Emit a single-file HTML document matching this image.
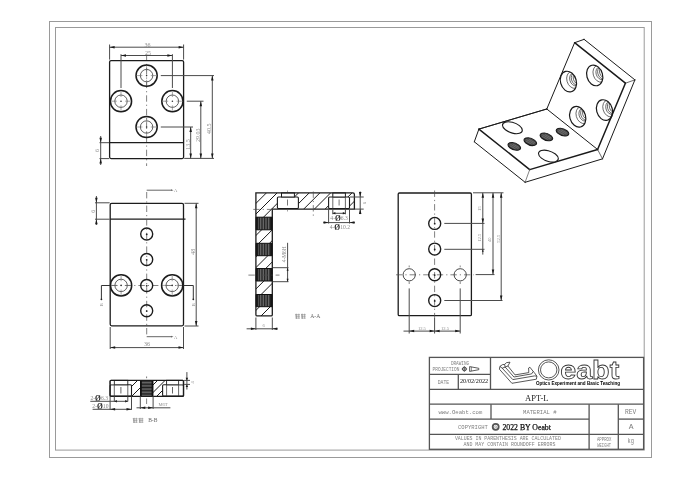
<!DOCTYPE html>
<html><head><meta charset="utf-8"><style>
html,body{margin:0;padding:0;background:#fff;width:700px;height:478px;overflow:hidden;}
svg{display:block;font-family:"Liberation Sans",sans-serif;filter:grayscale(1);}
</style></head><body>
<svg width="700" height="478" viewBox="0 0 700 478">
<rect width="700" height="478" fill="#fff"/>
<rect x="49.50" y="21.50" width="602.00" height="436.00" rx="0" fill="none" stroke="#9a9a9a" stroke-width="1"/>
<rect x="55.50" y="27.50" width="588.70" height="422.60" rx="0" fill="none" stroke="#9a9a9a" stroke-width="1"/>
<line x1="146.60" y1="54.50" x2="146.60" y2="166.00" stroke="#4a4a4a" stroke-width="0.7" stroke-dasharray="6.4 3.0 1.2 3.0" stroke-linecap="butt"/>
<rect x="109.60" y="60.60" width="74.00" height="98.00" rx="1.5" fill="none" stroke="#1c1c1c" stroke-width="1.3"/>
<line x1="109.60" y1="142.70" x2="183.60" y2="142.70" stroke="#1c1c1c" stroke-width="1.3" stroke-linecap="butt"/>
<circle cx="146.60" cy="75.60" r="10.60" fill="none" stroke="#1c1c1c" stroke-width="1.5"/>
<circle cx="146.60" cy="75.60" r="6.20" fill="none" stroke="#3a3a3a" stroke-width="0.8"/>
<line x1="150.80" y1="75.60" x2="156.10" y2="75.60" stroke="#666" stroke-width="0.6" stroke-linecap="butt"/>
<line x1="146.60" y1="79.80" x2="146.60" y2="85.10" stroke="#666" stroke-width="0.6" stroke-linecap="butt"/>
<line x1="142.40" y1="75.60" x2="137.10" y2="75.60" stroke="#666" stroke-width="0.6" stroke-linecap="butt"/>
<line x1="146.60" y1="71.40" x2="146.60" y2="66.10" stroke="#666" stroke-width="0.6" stroke-linecap="butt"/>
<circle cx="146.60" cy="75.60" r="0.80" fill="#333" stroke="none" stroke-width="0"/>
<circle cx="121.00" cy="101.20" r="10.60" fill="none" stroke="#1c1c1c" stroke-width="1.5"/>
<circle cx="121.00" cy="101.20" r="6.20" fill="none" stroke="#3a3a3a" stroke-width="0.8"/>
<line x1="125.20" y1="101.20" x2="130.50" y2="101.20" stroke="#666" stroke-width="0.6" stroke-linecap="butt"/>
<line x1="121.00" y1="105.40" x2="121.00" y2="110.70" stroke="#666" stroke-width="0.6" stroke-linecap="butt"/>
<line x1="116.80" y1="101.20" x2="111.50" y2="101.20" stroke="#666" stroke-width="0.6" stroke-linecap="butt"/>
<line x1="121.00" y1="97.00" x2="121.00" y2="91.70" stroke="#666" stroke-width="0.6" stroke-linecap="butt"/>
<circle cx="121.00" cy="101.20" r="0.80" fill="#333" stroke="none" stroke-width="0"/>
<circle cx="172.40" cy="101.20" r="10.60" fill="none" stroke="#1c1c1c" stroke-width="1.5"/>
<circle cx="172.40" cy="101.20" r="6.20" fill="none" stroke="#3a3a3a" stroke-width="0.8"/>
<line x1="176.60" y1="101.20" x2="181.90" y2="101.20" stroke="#666" stroke-width="0.6" stroke-linecap="butt"/>
<line x1="172.40" y1="105.40" x2="172.40" y2="110.70" stroke="#666" stroke-width="0.6" stroke-linecap="butt"/>
<line x1="168.20" y1="101.20" x2="162.90" y2="101.20" stroke="#666" stroke-width="0.6" stroke-linecap="butt"/>
<line x1="172.40" y1="97.00" x2="172.40" y2="91.70" stroke="#666" stroke-width="0.6" stroke-linecap="butt"/>
<circle cx="172.40" cy="101.20" r="0.80" fill="#333" stroke="none" stroke-width="0"/>
<circle cx="146.60" cy="127.00" r="10.60" fill="none" stroke="#1c1c1c" stroke-width="1.5"/>
<circle cx="146.60" cy="127.00" r="6.20" fill="none" stroke="#3a3a3a" stroke-width="0.8"/>
<line x1="150.80" y1="127.00" x2="156.10" y2="127.00" stroke="#666" stroke-width="0.6" stroke-linecap="butt"/>
<line x1="146.60" y1="131.20" x2="146.60" y2="136.50" stroke="#666" stroke-width="0.6" stroke-linecap="butt"/>
<line x1="142.40" y1="127.00" x2="137.10" y2="127.00" stroke="#666" stroke-width="0.6" stroke-linecap="butt"/>
<line x1="146.60" y1="122.80" x2="146.60" y2="117.50" stroke="#666" stroke-width="0.6" stroke-linecap="butt"/>
<circle cx="146.60" cy="127.00" r="0.80" fill="#333" stroke="none" stroke-width="0"/>
<line x1="109.60" y1="44.50" x2="109.60" y2="59.60" stroke="#4a4a4a" stroke-width="1.0" stroke-linecap="butt"/>
<line x1="183.60" y1="44.50" x2="183.60" y2="59.60" stroke="#4a4a4a" stroke-width="1.0" stroke-linecap="butt"/>
<line x1="109.60" y1="47.20" x2="183.60" y2="47.20" stroke="#4a4a4a" stroke-width="1.0" stroke-linecap="butt"/>
<polygon points="109.60,47.20 114.60,45.95 114.60,48.45" fill="#1a1a1a"/>
<polygon points="183.60,47.20 178.60,48.45 178.60,45.95" fill="#1a1a1a"/>
<text x="147.60" y="44.50" font-family="Liberation Serif" font-size="6.0" fill="#8c8c8c" text-anchor="middle" dominant-baseline="central" font-weight="normal">36</text>
<line x1="121.00" y1="54.20" x2="121.00" y2="88.00" stroke="#4a4a4a" stroke-width="1.0" stroke-linecap="butt"/>
<line x1="172.40" y1="54.20" x2="172.40" y2="88.00" stroke="#4a4a4a" stroke-width="1.0" stroke-linecap="butt"/>
<line x1="121.00" y1="55.50" x2="172.40" y2="55.50" stroke="#4a4a4a" stroke-width="1.0" stroke-linecap="butt"/>
<polygon points="121.00,55.50 126.00,54.25 126.00,56.75" fill="#1a1a1a"/>
<polygon points="172.40,55.50 167.40,56.75 167.40,54.25" fill="#1a1a1a"/>
<text x="148.10" y="52.70" font-family="Liberation Serif" font-size="6.0" fill="#8c8c8c" text-anchor="middle" dominant-baseline="central" font-weight="normal">25</text>
<line x1="160.80" y1="75.60" x2="214.00" y2="75.60" stroke="#4a4a4a" stroke-width="1.0" stroke-linecap="butt"/>
<line x1="186.80" y1="101.20" x2="203.50" y2="101.20" stroke="#4a4a4a" stroke-width="1.0" stroke-linecap="butt"/>
<line x1="160.80" y1="127.00" x2="193.00" y2="127.00" stroke="#4a4a4a" stroke-width="1.0" stroke-linecap="butt"/>
<line x1="184.20" y1="158.40" x2="214.00" y2="158.40" stroke="#4a4a4a" stroke-width="1.0" stroke-linecap="butt"/>
<line x1="190.70" y1="127.00" x2="190.70" y2="158.40" stroke="#4a4a4a" stroke-width="1.0" stroke-linecap="butt"/>
<polygon points="190.70,127.00 191.95,132.00 189.45,132.00" fill="#1a1a1a"/>
<polygon points="190.70,158.40 189.45,153.40 191.95,153.40" fill="#1a1a1a"/>
<line x1="200.80" y1="101.20" x2="200.80" y2="158.40" stroke="#4a4a4a" stroke-width="1.0" stroke-linecap="butt"/>
<polygon points="200.80,101.20 202.05,106.20 199.55,106.20" fill="#1a1a1a"/>
<polygon points="200.80,158.40 199.55,153.40 202.05,153.40" fill="#1a1a1a"/>
<line x1="212.30" y1="75.60" x2="212.30" y2="158.40" stroke="#4a4a4a" stroke-width="1.0" stroke-linecap="butt"/>
<polygon points="212.30,75.60 213.55,80.60 211.05,80.60" fill="#1a1a1a"/>
<polygon points="212.30,158.40 211.05,153.40 213.55,153.40" fill="#1a1a1a"/>
<text x="187.80" y="144.50" font-family="Liberation Serif" font-size="6.0" fill="#8c8c8c" text-anchor="middle" dominant-baseline="central" font-weight="normal" transform="rotate(-90 187.80 144.50)">13.5</text>
<text x="197.60" y="135.20" font-family="Liberation Serif" font-size="6.0" fill="#8c8c8c" text-anchor="middle" dominant-baseline="central" font-weight="normal" transform="rotate(-90 197.60 135.20)">29.03</text>
<text x="209.00" y="128.70" font-family="Liberation Serif" font-size="6.0" fill="#8c8c8c" text-anchor="middle" dominant-baseline="central" font-weight="normal" transform="rotate(-90 209.00 128.70)">40.5</text>
<line x1="99.50" y1="142.70" x2="109.10" y2="142.70" stroke="#4a4a4a" stroke-width="1.0" stroke-linecap="butt"/>
<line x1="99.50" y1="158.60" x2="109.10" y2="158.60" stroke="#4a4a4a" stroke-width="1.0" stroke-linecap="butt"/>
<line x1="100.70" y1="136.00" x2="100.70" y2="165.00" stroke="#4a4a4a" stroke-width="1.0" stroke-linecap="butt"/>
<polygon points="100.70,142.70 99.45,137.70 101.95,137.70" fill="#1a1a1a"/>
<polygon points="100.70,158.60 101.95,163.60 99.45,163.60" fill="#1a1a1a"/>
<text x="97.30" y="150.60" font-family="Liberation Serif" font-size="6.0" fill="#8c8c8c" text-anchor="middle" dominant-baseline="central" font-weight="normal" transform="rotate(-90 97.30 150.60)">6</text>
<rect x="110.20" y="203.30" width="73.30" height="122.50" rx="1.5" fill="none" stroke="#1c1c1c" stroke-width="1.3"/>
<line x1="110.20" y1="219.20" x2="185.50" y2="219.20" stroke="#1c1c1c" stroke-width="1.3" stroke-linecap="butt"/>
<line x1="146.70" y1="192.00" x2="146.70" y2="336.50" stroke="#4a4a4a" stroke-width="0.7" stroke-dasharray="6.4 3.0 1.2 3.0" stroke-linecap="butt"/>
<line x1="111.20" y1="285.50" x2="182.50" y2="285.50" stroke="#4a4a4a" stroke-width="0.7" stroke-dasharray="6.4 3.0 1.2 3.0" stroke-linecap="butt"/>
<circle cx="146.70" cy="234.00" r="6.00" fill="none" stroke="#1c1c1c" stroke-width="1.4"/>
<circle cx="146.70" cy="234.30" r="0.90" fill="#222" stroke="none" stroke-width="0"/>
<circle cx="146.70" cy="259.50" r="6.00" fill="none" stroke="#1c1c1c" stroke-width="1.4"/>
<circle cx="146.70" cy="259.80" r="0.90" fill="#222" stroke="none" stroke-width="0"/>
<circle cx="146.70" cy="285.50" r="6.00" fill="none" stroke="#1c1c1c" stroke-width="1.4"/>
<circle cx="146.70" cy="285.80" r="0.90" fill="#222" stroke="none" stroke-width="0"/>
<circle cx="146.70" cy="310.80" r="6.00" fill="none" stroke="#1c1c1c" stroke-width="1.4"/>
<circle cx="146.70" cy="311.10" r="0.90" fill="#222" stroke="none" stroke-width="0"/>
<circle cx="121.10" cy="285.40" r="10.60" fill="none" stroke="#1c1c1c" stroke-width="1.5"/>
<circle cx="121.10" cy="285.40" r="6.20" fill="none" stroke="#3a3a3a" stroke-width="0.8"/>
<line x1="125.30" y1="285.40" x2="130.60" y2="285.40" stroke="#666" stroke-width="0.6" stroke-linecap="butt"/>
<line x1="121.10" y1="289.60" x2="121.10" y2="294.90" stroke="#666" stroke-width="0.6" stroke-linecap="butt"/>
<line x1="116.90" y1="285.40" x2="111.60" y2="285.40" stroke="#666" stroke-width="0.6" stroke-linecap="butt"/>
<line x1="121.10" y1="281.20" x2="121.10" y2="275.90" stroke="#666" stroke-width="0.6" stroke-linecap="butt"/>
<circle cx="121.10" cy="285.40" r="0.80" fill="#333" stroke="none" stroke-width="0"/>
<circle cx="172.20" cy="285.40" r="10.60" fill="none" stroke="#1c1c1c" stroke-width="1.5"/>
<circle cx="172.20" cy="285.40" r="6.20" fill="none" stroke="#3a3a3a" stroke-width="0.8"/>
<line x1="176.40" y1="285.40" x2="181.70" y2="285.40" stroke="#666" stroke-width="0.6" stroke-linecap="butt"/>
<line x1="172.20" y1="289.60" x2="172.20" y2="294.90" stroke="#666" stroke-width="0.6" stroke-linecap="butt"/>
<line x1="168.00" y1="285.40" x2="162.70" y2="285.40" stroke="#666" stroke-width="0.6" stroke-linecap="butt"/>
<line x1="172.20" y1="281.20" x2="172.20" y2="275.90" stroke="#666" stroke-width="0.6" stroke-linecap="butt"/>
<circle cx="172.20" cy="285.40" r="0.80" fill="#333" stroke="none" stroke-width="0"/>
<line x1="146.70" y1="190.20" x2="171.50" y2="190.20" stroke="#666" stroke-width="1" stroke-linecap="butt"/>
<polygon points="173.50,190.20 171.00,191.10 171.00,189.30" fill="#666"/>
<text x="175.50" y="190.40" font-family="Liberation Serif" font-size="4.5" fill="#8c8c8c" text-anchor="middle" dominant-baseline="central" font-weight="normal">A</text>
<line x1="146.70" y1="336.70" x2="171.50" y2="336.70" stroke="#666" stroke-width="1" stroke-linecap="butt"/>
<polygon points="173.50,336.70 171.00,337.60 171.00,335.80" fill="#666"/>
<text x="175.50" y="337.90" font-family="Liberation Serif" font-size="4.5" fill="#8c8c8c" text-anchor="middle" dominant-baseline="central" font-weight="normal">A</text>
<polyline points="110.20,285.50 101.40,285.50 101.40,299.00" fill="none" stroke="#333" stroke-width="1.0" stroke-linejoin="miter"/>
<polyline points="183.50,285.50 193.30,285.50 193.30,299.00" fill="none" stroke="#333" stroke-width="1.0" stroke-linejoin="miter"/>
<circle cx="101.40" cy="299.30" r="0.90" fill="#222" stroke="none" stroke-width="0"/>
<circle cx="193.30" cy="299.30" r="0.90" fill="#222" stroke="none" stroke-width="0"/>
<text x="101.20" y="304.80" font-family="Liberation Serif" font-size="4.6" fill="#888" text-anchor="middle" dominant-baseline="central" font-weight="normal" transform="rotate(-90 101.20 304.80)">B</text>
<text x="193.10" y="304.80" font-family="Liberation Serif" font-size="4.6" fill="#888" text-anchor="middle" dominant-baseline="central" font-weight="normal" transform="rotate(-90 193.10 304.80)">B</text>
<line x1="95.00" y1="202.80" x2="109.70" y2="202.80" stroke="#4a4a4a" stroke-width="1.0" stroke-linecap="butt"/>
<line x1="95.00" y1="219.20" x2="109.70" y2="219.20" stroke="#4a4a4a" stroke-width="1.0" stroke-linecap="butt"/>
<line x1="96.40" y1="196.00" x2="96.40" y2="225.00" stroke="#4a4a4a" stroke-width="1.0" stroke-linecap="butt"/>
<polygon points="96.40,202.80 95.15,197.80 97.65,197.80" fill="#1a1a1a"/>
<polygon points="96.40,219.20 97.65,224.20 95.15,224.20" fill="#1a1a1a"/>
<text x="93.20" y="211.20" font-family="Liberation Serif" font-size="6.0" fill="#8c8c8c" text-anchor="middle" dominant-baseline="central" font-weight="normal" transform="rotate(-90 93.20 211.20)">6</text>
<line x1="184.50" y1="203.30" x2="198.50" y2="203.30" stroke="#4a4a4a" stroke-width="1.0" stroke-linecap="butt"/>
<line x1="184.50" y1="326.00" x2="198.50" y2="326.00" stroke="#4a4a4a" stroke-width="1.0" stroke-linecap="butt"/>
<line x1="196.20" y1="203.30" x2="196.20" y2="326.00" stroke="#4a4a4a" stroke-width="1.0" stroke-linecap="butt"/>
<polygon points="196.20,203.30 197.45,208.30 194.95,208.30" fill="#1a1a1a"/>
<polygon points="196.20,326.00 194.95,321.00 197.45,321.00" fill="#1a1a1a"/>
<text x="193.00" y="251.70" font-family="Liberation Serif" font-size="6.0" fill="#8c8c8c" text-anchor="middle" dominant-baseline="central" font-weight="normal" transform="rotate(-90 193.00 251.70)">48</text>
<line x1="110.20" y1="327.00" x2="110.20" y2="349.00" stroke="#4a4a4a" stroke-width="1.0" stroke-linecap="butt"/>
<line x1="183.50" y1="327.00" x2="183.50" y2="349.00" stroke="#4a4a4a" stroke-width="1.0" stroke-linecap="butt"/>
<line x1="110.20" y1="347.60" x2="183.50" y2="347.60" stroke="#4a4a4a" stroke-width="1.0" stroke-linecap="butt"/>
<polygon points="110.20,347.60 115.20,346.35 115.20,348.85" fill="#1a1a1a"/>
<polygon points="183.50,347.60 178.50,348.85 178.50,346.35" fill="#1a1a1a"/>
<text x="147.00" y="344.30" font-family="Liberation Serif" font-size="6.0" fill="#8c8c8c" text-anchor="middle" dominant-baseline="central" font-weight="normal">36</text>
<clipPath id="cpL"><path d="M255.9,192.9 L352.9,192.9 Q354.4,192.9 354.4,194.4 L354.4,209.1 L272.3,209.1 L272.3,314.7 Q272.3,315.9 271.1,315.9 L257.1,315.9 Q255.9,315.9 255.9,314.7 Z"/></clipPath>
<path d="M252.90,185 L117.90,320 M263.60,185 L128.60,320 M274.30,185 L139.30,320 M285.00,185 L150.00,320 M295.70,185 L160.70,320 M306.40,185 L171.40,320 M317.10,185 L182.10,320 M327.80,185 L192.80,320 M338.50,185 L203.50,320 M349.20,185 L214.20,320 M359.90,185 L224.90,320 M370.60,185 L235.60,320 M381.30,185 L246.30,320 M392.00,185 L257.00,320 M402.70,185 L267.70,320 M413.40,185 L278.40,320 M424.10,185 L289.10,320 M434.80,185 L299.80,320" stroke="#1a1a1a" stroke-width="1.0" fill="none" clip-path="url(#cpL)"/>
<rect x="277.40" y="197.00" width="21.00" height="11.50" rx="1" fill="#fff" stroke="#1c1c1c" stroke-width="1.1"/>
<rect x="281.50" y="192.90" width="12.90" height="4.10" rx="0" fill="#fff" stroke="#1c1c1c" stroke-width="1.0"/>
<rect x="328.60" y="197.00" width="20.90" height="11.50" rx="1" fill="#fff" stroke="#1c1c1c" stroke-width="1.1"/>
<rect x="332.80" y="192.90" width="12.60" height="4.10" rx="0" fill="#fff" stroke="#1c1c1c" stroke-width="1.0"/>
<line x1="332.80" y1="197.00" x2="332.80" y2="209.10" stroke="#444" stroke-width="0.8" stroke-linecap="butt"/>
<line x1="345.40" y1="197.00" x2="345.40" y2="209.10" stroke="#444" stroke-width="0.8" stroke-linecap="butt"/>
<line x1="287.50" y1="199.50" x2="287.50" y2="205.50" stroke="#555" stroke-width="0.8" stroke-linecap="butt"/>
<line x1="339.10" y1="199.50" x2="339.10" y2="205.50" stroke="#555" stroke-width="0.8" stroke-linecap="butt"/>
<line x1="287.50" y1="190.50" x2="287.50" y2="192.00" stroke="#666" stroke-width="0.6" stroke-linecap="butt"/>
<line x1="287.50" y1="210.00" x2="287.50" y2="211.50" stroke="#666" stroke-width="0.6" stroke-linecap="butt"/>
<pattern id="thr" width="1.6" height="4" patternUnits="userSpaceOnUse"><rect width="1.6" height="4" fill="#1e1e1e"/><rect x="1.0" width="0.6" height="4" fill="#8a8a8a"/></pattern>
<rect x="255.9" y="217.2" width="16.400000000000006" height="12.600000000000023" fill="url(#thr)"/>
<line x1="255.90" y1="217.20" x2="272.30" y2="217.20" stroke="#111" stroke-width="1.0" stroke-linecap="butt"/>
<line x1="255.90" y1="229.80" x2="272.30" y2="229.80" stroke="#111" stroke-width="1.0" stroke-linecap="butt"/>
<rect x="255.6" y="217.2" width="2.2" height="12.600000000000023" fill="#111"/>
<rect x="270.40000000000003" y="217.2" width="2.2" height="12.600000000000023" fill="#111"/>
<rect x="255.9" y="243.3" width="16.400000000000006" height="12.399999999999977" fill="url(#thr)"/>
<line x1="255.90" y1="243.30" x2="272.30" y2="243.30" stroke="#111" stroke-width="1.0" stroke-linecap="butt"/>
<line x1="255.90" y1="255.70" x2="272.30" y2="255.70" stroke="#111" stroke-width="1.0" stroke-linecap="butt"/>
<rect x="255.6" y="243.3" width="2.2" height="12.399999999999977" fill="#111"/>
<rect x="270.40000000000003" y="243.3" width="2.2" height="12.399999999999977" fill="#111"/>
<rect x="255.9" y="268.5" width="16.400000000000006" height="12.5" fill="url(#thr)"/>
<line x1="255.90" y1="268.50" x2="272.30" y2="268.50" stroke="#111" stroke-width="1.0" stroke-linecap="butt"/>
<line x1="255.90" y1="281.00" x2="272.30" y2="281.00" stroke="#111" stroke-width="1.0" stroke-linecap="butt"/>
<rect x="255.6" y="268.5" width="2.2" height="12.5" fill="#111"/>
<rect x="270.40000000000003" y="268.5" width="2.2" height="12.5" fill="#111"/>
<rect x="255.9" y="294.5" width="16.400000000000006" height="12.199999999999989" fill="url(#thr)"/>
<line x1="255.90" y1="294.50" x2="272.30" y2="294.50" stroke="#111" stroke-width="1.0" stroke-linecap="butt"/>
<line x1="255.90" y1="306.70" x2="272.30" y2="306.70" stroke="#111" stroke-width="1.0" stroke-linecap="butt"/>
<rect x="255.6" y="294.5" width="2.2" height="12.199999999999989" fill="#111"/>
<rect x="270.40000000000003" y="294.5" width="2.2" height="12.199999999999989" fill="#111"/>
<path d="M255.9,192.9 L352.9,192.9 Q354.4,192.9 354.4,194.4 L354.4,209.1 L272.3,209.1 L272.3,314.7 Q272.3,315.9 271.1,315.9 L257.1,315.9 Q255.9,315.9 255.9,314.7 Z" fill="none" stroke="#1c1c1c" stroke-width="1.3"/>
<line x1="253.30" y1="209.40" x2="274.00" y2="209.40" stroke="#4a4a4a" stroke-width="0.7" stroke-dasharray="6.4 3.0 1.2 3.0" stroke-linecap="butt"/>
<line x1="248.40" y1="275.10" x2="279.50" y2="275.10" stroke="#4a4a4a" stroke-width="0.7" stroke-dasharray="6.4 3.0 1.2 3.0" stroke-linecap="butt"/>
<line x1="313.30" y1="191.50" x2="313.30" y2="216.50" stroke="#4a4a4a" stroke-width="0.7" stroke-dasharray="6.4 3.0 1.2 3.0" stroke-linecap="butt"/>
<line x1="272.80" y1="267.70" x2="288.50" y2="267.70" stroke="#4a4a4a" stroke-width="1.0" stroke-linecap="butt"/>
<line x1="272.80" y1="281.70" x2="288.50" y2="281.70" stroke="#4a4a4a" stroke-width="1.0" stroke-linecap="butt"/>
<line x1="287.60" y1="242.80" x2="287.60" y2="281.70" stroke="#4a4a4a" stroke-width="1.0" stroke-linecap="butt"/>
<polygon points="287.60,267.70 288.60,270.70 286.60,270.70" fill="#1a1a1a"/>
<polygon points="287.60,281.70 286.60,278.70 288.60,278.70" fill="#1a1a1a"/>
<text x="284.30" y="254.30" font-family="Liberation Serif" font-size="5.4" fill="#888" text-anchor="middle" dominant-baseline="central" font-weight="normal" transform="rotate(-90 284.30 254.30)">4-M6H</text>
<line x1="255.90" y1="317.50" x2="255.90" y2="330.00" stroke="#4a4a4a" stroke-width="1.0" stroke-linecap="butt"/>
<line x1="272.30" y1="317.50" x2="272.30" y2="330.00" stroke="#4a4a4a" stroke-width="1.0" stroke-linecap="butt"/>
<line x1="246.60" y1="328.80" x2="277.70" y2="328.80" stroke="#4a4a4a" stroke-width="1.0" stroke-linecap="butt"/>
<polygon points="255.90,328.80 250.90,330.05 250.90,327.55" fill="#1a1a1a"/>
<polygon points="272.30,328.80 277.30,327.55 277.30,330.05" fill="#1a1a1a"/>
<text x="263.60" y="325.40" font-family="Liberation Serif" font-size="4.6" fill="#8c8c8c" text-anchor="middle" dominant-baseline="central" font-weight="normal">6</text>
<line x1="332.80" y1="209.10" x2="332.80" y2="214.30" stroke="#4a4a4a" stroke-width="1.0" stroke-linecap="butt"/>
<line x1="345.40" y1="209.10" x2="345.40" y2="214.30" stroke="#4a4a4a" stroke-width="1.0" stroke-linecap="butt"/>
<line x1="332.80" y1="213.30" x2="345.40" y2="213.30" stroke="#4a4a4a" stroke-width="1.0" stroke-linecap="butt"/>
<polygon points="332.80,213.30 335.40,212.05 335.40,214.55" fill="#1a1a1a"/>
<polygon points="345.40,213.30 342.80,214.55 342.80,212.05" fill="#1a1a1a"/>
<text x="339.10" y="217.90" font-family="Liberation Serif" font-size="5.6" fill="#888" text-anchor="middle" dominant-baseline="central" font-weight="normal">4-<tspan font-size="7.5" fill="#222" font-weight="bold">Ø</tspan>6.3</text>
<line x1="328.60" y1="209.10" x2="328.60" y2="223.50" stroke="#4a4a4a" stroke-width="1.0" stroke-linecap="butt"/>
<line x1="349.50" y1="209.10" x2="349.50" y2="223.50" stroke="#4a4a4a" stroke-width="1.0" stroke-linecap="butt"/>
<line x1="323.20" y1="222.60" x2="355.00" y2="222.60" stroke="#4a4a4a" stroke-width="1.0" stroke-linecap="butt"/>
<polygon points="328.60,222.60 323.60,223.85 323.60,221.35" fill="#1a1a1a"/>
<polygon points="349.50,222.60 354.50,221.35 354.50,223.85" fill="#1a1a1a"/>
<text x="339.80" y="227.00" font-family="Liberation Serif" font-size="5.6" fill="#888" text-anchor="middle" dominant-baseline="central" font-weight="normal">4-<tspan font-size="7.5" fill="#222" font-weight="bold">Ø</tspan>10.2</text>
<line x1="350.00" y1="197.00" x2="363.70" y2="197.00" stroke="#4a4a4a" stroke-width="1.0" stroke-linecap="butt"/>
<line x1="354.90" y1="209.10" x2="363.70" y2="209.10" stroke="#4a4a4a" stroke-width="1.0" stroke-linecap="butt"/>
<line x1="360.20" y1="191.50" x2="360.20" y2="214.10" stroke="#4a4a4a" stroke-width="1.0" stroke-linecap="butt"/>
<polygon points="360.20,197.00 358.95,192.00 361.45,192.00" fill="#1a1a1a"/>
<polygon points="360.20,209.10 361.45,214.10 358.95,214.10" fill="#1a1a1a"/>
<text x="364.70" y="203.00" font-family="Liberation Serif" font-size="4.6" fill="#8c8c8c" text-anchor="middle" dominant-baseline="central" font-weight="normal" transform="rotate(-90 364.70 203.00)">6</text>
<rect x="398.20" y="193.00" width="73.20" height="122.60" rx="1.2" fill="none" stroke="#1c1c1c" stroke-width="1.3"/>
<line x1="434.60" y1="190.50" x2="434.60" y2="318.00" stroke="#4a4a4a" stroke-width="0.7" stroke-dasharray="6.4 3.0 1.2 3.0" stroke-linecap="butt"/>
<line x1="434.60" y1="318.00" x2="434.60" y2="333.50" stroke="#4a4a4a" stroke-width="1.0" stroke-linecap="butt"/>
<line x1="396.00" y1="274.80" x2="474.00" y2="274.80" stroke="#4a4a4a" stroke-width="0.7" stroke-dasharray="6.4 3.0 1.2 3.0" stroke-linecap="butt"/>
<circle cx="434.70" cy="223.40" r="6.00" fill="none" stroke="#1c1c1c" stroke-width="1.4"/>
<circle cx="434.70" cy="223.70" r="0.90" fill="#222" stroke="none" stroke-width="0"/>
<circle cx="434.70" cy="249.10" r="6.00" fill="none" stroke="#1c1c1c" stroke-width="1.4"/>
<circle cx="434.70" cy="249.40" r="0.90" fill="#222" stroke="none" stroke-width="0"/>
<circle cx="434.70" cy="274.80" r="6.00" fill="none" stroke="#1c1c1c" stroke-width="1.4"/>
<circle cx="434.70" cy="275.10" r="0.90" fill="#222" stroke="none" stroke-width="0"/>
<circle cx="434.70" cy="300.60" r="6.00" fill="none" stroke="#1c1c1c" stroke-width="1.4"/>
<circle cx="434.70" cy="300.90" r="0.90" fill="#222" stroke="none" stroke-width="0"/>
<circle cx="409.20" cy="274.80" r="6.10" fill="none" stroke="#333" stroke-width="0.9"/>
<line x1="409.20" y1="265.50" x2="409.20" y2="267.30" stroke="#666" stroke-width="0.8" stroke-linecap="butt"/>
<line x1="409.20" y1="281.50" x2="409.20" y2="284.00" stroke="#666" stroke-width="0.8" stroke-linecap="butt"/>
<line x1="409.20" y1="288.40" x2="409.20" y2="333.50" stroke="#4a4a4a" stroke-width="1.0" stroke-linecap="butt"/>
<circle cx="460.20" cy="274.80" r="6.10" fill="none" stroke="#333" stroke-width="0.9"/>
<line x1="460.20" y1="265.50" x2="460.20" y2="267.30" stroke="#666" stroke-width="0.8" stroke-linecap="butt"/>
<line x1="460.20" y1="281.50" x2="460.20" y2="284.00" stroke="#666" stroke-width="0.8" stroke-linecap="butt"/>
<line x1="460.20" y1="288.40" x2="460.20" y2="333.50" stroke="#4a4a4a" stroke-width="1.0" stroke-linecap="butt"/>
<line x1="473.00" y1="192.80" x2="503.50" y2="192.80" stroke="#4a4a4a" stroke-width="1.0" stroke-linecap="butt"/>
<line x1="444.30" y1="223.40" x2="484.50" y2="223.40" stroke="#4a4a4a" stroke-width="1.0" stroke-linecap="butt"/>
<line x1="444.30" y1="249.30" x2="484.50" y2="249.30" stroke="#4a4a4a" stroke-width="1.0" stroke-linecap="butt"/>
<line x1="475.60" y1="274.60" x2="494.50" y2="274.60" stroke="#4a4a4a" stroke-width="1.0" stroke-linecap="butt"/>
<line x1="444.30" y1="300.50" x2="502.50" y2="300.50" stroke="#4a4a4a" stroke-width="1.0" stroke-linecap="butt"/>
<line x1="482.80" y1="192.80" x2="482.80" y2="254.60" stroke="#4a4a4a" stroke-width="1.0" stroke-linecap="butt"/>
<polygon points="482.80,192.80 484.05,197.80 481.55,197.80" fill="#1a1a1a"/>
<polygon points="482.80,223.40 481.55,218.40 484.05,218.40" fill="#1a1a1a"/>
<polygon points="482.80,249.30 483.70,251.80 481.90,251.80" fill="#1a1a1a"/>
<line x1="493.00" y1="192.80" x2="493.00" y2="274.60" stroke="#4a4a4a" stroke-width="1.0" stroke-linecap="butt"/>
<polygon points="493.00,192.80 494.25,197.80 491.75,197.80" fill="#1a1a1a"/>
<polygon points="493.00,274.60 491.75,269.60 494.25,269.60" fill="#1a1a1a"/>
<line x1="501.20" y1="192.80" x2="501.20" y2="300.50" stroke="#4a4a4a" stroke-width="1.0" stroke-linecap="butt"/>
<polygon points="501.20,192.80 502.45,197.80 499.95,197.80" fill="#1a1a1a"/>
<polygon points="501.20,300.50 499.95,295.50 502.45,295.50" fill="#1a1a1a"/>
<text x="479.30" y="208.60" font-family="Liberation Serif" font-size="4.6" fill="#8c8c8c" text-anchor="middle" dominant-baseline="central" font-weight="normal" transform="rotate(-90 479.30 208.60)">15</text>
<text x="479.80" y="237.70" font-family="Liberation Serif" font-size="4.6" fill="#8c8c8c" text-anchor="middle" dominant-baseline="central" font-weight="normal" transform="rotate(-90 479.80 237.70)">12.5</text>
<text x="489.60" y="239.70" font-family="Liberation Serif" font-size="4.6" fill="#8c8c8c" text-anchor="middle" dominant-baseline="central" font-weight="normal" transform="rotate(-90 489.60 239.70)">40</text>
<text x="498.30" y="238.70" font-family="Liberation Serif" font-size="4.6" fill="#8c8c8c" text-anchor="middle" dominant-baseline="central" font-weight="normal" transform="rotate(-90 498.30 238.70)">52.5</text>
<line x1="403.50" y1="331.10" x2="460.20" y2="331.10" stroke="#4a4a4a" stroke-width="1.0" stroke-linecap="butt"/>
<polygon points="409.20,331.10 414.20,329.85 414.20,332.35" fill="#1a1a1a"/>
<polygon points="434.60,331.10 429.60,332.35 429.60,329.85" fill="#1a1a1a"/>
<polygon points="434.60,331.10 439.60,329.85 439.60,332.35" fill="#1a1a1a"/>
<polygon points="460.20,331.10 455.20,332.35 455.20,329.85" fill="#1a1a1a"/>
<text x="421.90" y="328.50" font-family="Liberation Serif" font-size="4.6" fill="#8c8c8c" text-anchor="middle" dominant-baseline="central" font-weight="normal">12.5</text>
<text x="445.00" y="328.50" font-family="Liberation Serif" font-size="4.6" fill="#8c8c8c" text-anchor="middle" dominant-baseline="central" font-weight="normal">12.5</text>
<clipPath id="cpB"><rect x="110.0" y="380.3" width="73.6" height="16.099999999999966"/></clipPath>
<path d="M128.00,370 L98.00,400 M137.00,370 L107.00,400 M148.00,370 L118.00,400 M158.00,370 L128.00,400 M168.00,370 L138.00,400 M175.50,370 L145.50,400 M183.00,370 L153.00,400 M193.00,370 L163.00,400" stroke="#1a1a1a" stroke-width="1.0" fill="none" clip-path="url(#cpB)"/>
<rect x="110.10" y="384.80" width="21.40" height="11.30" rx="1" fill="#fff" stroke="#1c1c1c" stroke-width="1.1"/>
<rect x="114.30" y="380.30" width="13.50" height="4.50" rx="0" fill="#fff" stroke="#1c1c1c" stroke-width="0.9"/>
<rect x="110.20" y="380.30" width="4.10" height="4.50" rx="0.8" fill="#fff" stroke="#333" stroke-width="0.7"/>
<line x1="114.30" y1="384.80" x2="114.30" y2="396.40" stroke="#444" stroke-width="0.8" stroke-linecap="butt"/>
<line x1="127.80" y1="384.80" x2="127.80" y2="396.40" stroke="#444" stroke-width="0.8" stroke-linecap="butt"/>
<line x1="120.90" y1="387.00" x2="120.90" y2="393.50" stroke="#555" stroke-width="0.9" stroke-linecap="butt"/>
<rect x="162.60" y="384.80" width="20.80" height="11.30" rx="1" fill="#fff" stroke="#1c1c1c" stroke-width="1.1"/>
<rect x="166.60" y="380.30" width="12.00" height="4.50" rx="0" fill="#fff" stroke="#1c1c1c" stroke-width="0.9"/>
<rect x="178.60" y="380.30" width="4.60" height="4.50" rx="0.8" fill="#fff" stroke="#333" stroke-width="0.7"/>
<line x1="166.60" y1="384.80" x2="166.60" y2="396.40" stroke="#444" stroke-width="0.8" stroke-linecap="butt"/>
<line x1="178.60" y1="384.80" x2="178.60" y2="396.40" stroke="#444" stroke-width="0.8" stroke-linecap="butt"/>
<line x1="172.50" y1="387.00" x2="172.50" y2="393.50" stroke="#555" stroke-width="0.9" stroke-linecap="butt"/>
<pattern id="thrH" width="4" height="1.45" patternUnits="userSpaceOnUse"><rect width="4" height="1.45" fill="#1e1e1e"/><rect y="0.95" width="4" height="0.5" fill="#8a8a8a"/></pattern>
<rect x="140.3" y="380.3" width="12.8" height="16.099999999999966" fill="url(#thrH)"/>
<rect x="140.0" y="380.3" width="1.8" height="16.099999999999966" fill="#111"/>
<rect x="151.6" y="380.3" width="1.8" height="16.099999999999966" fill="#111"/>
<rect x="110.00" y="380.30" width="73.60" height="16.10" rx="1" fill="none" stroke="#1c1c1c" stroke-width="1.3"/>
<line x1="146.60" y1="376.50" x2="146.60" y2="378.20" stroke="#555" stroke-width="0.8" stroke-linecap="butt"/>
<line x1="140.30" y1="396.40" x2="140.30" y2="409.00" stroke="#4a4a4a" stroke-width="1.0" stroke-linecap="butt"/>
<line x1="153.10" y1="396.40" x2="153.10" y2="409.00" stroke="#4a4a4a" stroke-width="1.0" stroke-linecap="butt"/>
<line x1="146.60" y1="398.50" x2="146.60" y2="404.00" stroke="#666" stroke-width="0.8" stroke-linecap="butt"/>
<line x1="136.50" y1="407.80" x2="170.40" y2="407.80" stroke="#4a4a4a" stroke-width="1.0" stroke-linecap="butt"/>
<polygon points="140.30,407.80 145.30,406.55 145.30,409.05" fill="#1a1a1a"/>
<polygon points="153.10,407.80 148.10,409.05 148.10,406.55" fill="#1a1a1a"/>
<text x="163.00" y="404.60" font-family="Liberation Serif" font-size="4.6" fill="#8c8c8c" text-anchor="middle" dominant-baseline="central" font-weight="normal">M6T</text>
<line x1="114.30" y1="396.40" x2="114.30" y2="401.50" stroke="#4a4a4a" stroke-width="1.0" stroke-linecap="butt"/>
<line x1="127.80" y1="396.40" x2="127.80" y2="401.50" stroke="#4a4a4a" stroke-width="1.0" stroke-linecap="butt"/>
<line x1="90.30" y1="401.30" x2="127.80" y2="401.30" stroke="#4a4a4a" stroke-width="1.0" stroke-linecap="butt"/>
<polygon points="114.30,401.30 116.90,400.05 116.90,402.55" fill="#1a1a1a"/>
<polygon points="127.80,401.30 125.20,402.55 125.20,400.05" fill="#1a1a1a"/>
<line x1="110.10" y1="396.40" x2="110.10" y2="409.80" stroke="#4a4a4a" stroke-width="1.0" stroke-linecap="butt"/>
<line x1="131.50" y1="396.40" x2="131.50" y2="409.80" stroke="#4a4a4a" stroke-width="1.0" stroke-linecap="butt"/>
<line x1="92.60" y1="409.30" x2="131.50" y2="409.30" stroke="#4a4a4a" stroke-width="1.0" stroke-linecap="butt"/>
<polygon points="110.10,409.30 115.10,408.05 115.10,410.55" fill="#1a1a1a"/>
<polygon points="131.50,409.30 126.50,410.55 126.50,408.05" fill="#1a1a1a"/>
<text x="99.20" y="398.30" font-family="Liberation Serif" font-size="5.6" fill="#888" text-anchor="middle" dominant-baseline="central" font-weight="normal">2-<tspan font-size="7.5" fill="#222" font-weight="bold">Ø</tspan>6.3</text>
<text x="100.40" y="406.30" font-family="Liberation Serif" font-size="5.6" fill="#888" text-anchor="middle" dominant-baseline="central" font-weight="normal">2-<tspan font-size="7.5" fill="#222" font-weight="bold">Ø</tspan>10</text>
<line x1="184.10" y1="380.40" x2="190.00" y2="380.40" stroke="#4a4a4a" stroke-width="1.0" stroke-linecap="butt"/>
<line x1="184.10" y1="384.40" x2="190.00" y2="384.40" stroke="#4a4a4a" stroke-width="1.0" stroke-linecap="butt"/>
<line x1="186.90" y1="372.10" x2="186.90" y2="389.50" stroke="#4a4a4a" stroke-width="1.0" stroke-linecap="butt"/>
<polygon points="186.90,380.40 185.65,377.80 188.15,377.80" fill="#1a1a1a"/>
<polygon points="186.90,384.40 188.15,387.00 185.65,387.00" fill="#1a1a1a"/>
<text x="192.20" y="382.40" font-family="Liberation Serif" font-size="4.6" fill="#8c8c8c" text-anchor="middle" dominant-baseline="central" font-weight="normal" transform="rotate(-90 192.20 382.40)">4</text>
<path d="M295.4,314.7 h4.6 M295.7,316.3 h4.2 M295.4,318.1 h4.6 M296.59999999999997,313.7 v5 M298.79999999999995,313.7 v5 M295.59999999999997,313.90000000000003 l0.8,4.8 M301.2,314.7 h4.6 M301.5,316.3 h4.2 M301.2,318.1 h4.6 M302.4,313.7 v5 M304.59999999999997,313.7 v5 M301.4,313.90000000000003 l0.8,4.8" stroke="#888" stroke-width="0.6" fill="none"/>
<text x="315.30" y="316.30" font-family="Liberation Serif" font-size="5.6" fill="#666" text-anchor="middle" dominant-baseline="central" font-weight="normal">A-A</text>
<path d="M133.0,418.79999999999995 h4.6 M133.3,420.4 h4.2 M133.0,422.2 h4.6 M134.2,417.79999999999995 v5 M136.4,417.79999999999995 v5 M133.2,418.0 l0.8,4.8 M138.8,418.79999999999995 h4.6 M139.10000000000002,420.4 h4.2 M138.8,422.2 h4.6 M140.0,417.79999999999995 v5 M142.20000000000002,417.79999999999995 v5 M139.0,418.0 l0.8,4.8" stroke="#888" stroke-width="0.6" fill="none"/>
<text x="152.80" y="420.40" font-family="Liberation Serif" font-size="5.6" fill="#666" text-anchor="middle" dominant-baseline="central" font-weight="normal">B-B</text>
<rect x="429.40" y="357.40" width="214.20" height="91.90" rx="0" fill="none" stroke="#555" stroke-width="1.3"/>
<line x1="429.60" y1="374.30" x2="490.50" y2="374.30" stroke="#555" stroke-width="1.3" stroke-linecap="butt"/>
<line x1="429.60" y1="389.40" x2="643.30" y2="389.40" stroke="#555" stroke-width="1.3" stroke-linecap="butt"/>
<line x1="429.60" y1="404.20" x2="643.30" y2="404.20" stroke="#555" stroke-width="1.3" stroke-linecap="butt"/>
<line x1="429.60" y1="419.10" x2="589.10" y2="419.10" stroke="#555" stroke-width="1.3" stroke-linecap="butt"/>
<line x1="618.30" y1="419.10" x2="643.30" y2="419.10" stroke="#555" stroke-width="1.3" stroke-linecap="butt"/>
<line x1="429.60" y1="434.30" x2="643.30" y2="434.30" stroke="#555" stroke-width="1.3" stroke-linecap="butt"/>
<line x1="490.50" y1="357.50" x2="490.50" y2="389.40" stroke="#555" stroke-width="1.3" stroke-linecap="butt"/>
<line x1="458.30" y1="374.30" x2="458.30" y2="389.40" stroke="#555" stroke-width="1.3" stroke-linecap="butt"/>
<line x1="491.00" y1="404.20" x2="491.00" y2="419.10" stroke="#555" stroke-width="1.3" stroke-linecap="butt"/>
<line x1="589.10" y1="404.20" x2="589.10" y2="449.30" stroke="#555" stroke-width="1.3" stroke-linecap="butt"/>
<line x1="618.30" y1="404.20" x2="618.30" y2="449.30" stroke="#555" stroke-width="1.3" stroke-linecap="butt"/>
<text x="450.90" y="363.60" font-family="Liberation Mono" font-size="5.6" fill="#808080" dominant-baseline="central" textLength="18.20" lengthAdjust="spacingAndGlyphs">DRAWING</text>
<text x="432.60" y="369.10" font-family="Liberation Mono" font-size="5.6" fill="#808080" dominant-baseline="central" textLength="26.80" lengthAdjust="spacingAndGlyphs">PROJECTION</text>
<circle cx="464.40" cy="369.00" r="1.90" fill="none" stroke="#333" stroke-width="0.9"/>
<line x1="461.70" y1="369.00" x2="467.10" y2="369.00" stroke="#333" stroke-width="0.6" stroke-linecap="butt"/>
<line x1="464.40" y1="366.30" x2="464.40" y2="371.70" stroke="#333" stroke-width="0.6" stroke-linecap="butt"/>
<polygon points="469.60,366.60 478.80,368.30 478.80,369.70 469.60,371.40" fill="none" stroke="#333" stroke-width="0.8" stroke-linejoin="miter"/>
<line x1="471.30" y1="366.90" x2="471.30" y2="371.10" stroke="#333" stroke-width="0.6" stroke-linecap="butt"/>
<text x="437.70" y="382.00" font-family="Liberation Mono" font-size="5.6" fill="#808080" dominant-baseline="central" textLength="11.40" lengthAdjust="spacingAndGlyphs">DATE</text>
<text x="460.00" y="381.20" font-family="Liberation Serif" font-size="7.0" fill="#111" font-weight="normal" dominant-baseline="central" textLength="28.20" lengthAdjust="spacingAndGlyphs">20/02/2022</text>
<text x="525.00" y="398.40" font-family="Liberation Serif" font-size="8.0" fill="#222" font-weight="normal" dominant-baseline="central" textLength="23.50" lengthAdjust="spacingAndGlyphs">APT-L</text>
<text x="438.40" y="412.60" font-family="Liberation Mono" font-size="5.6" fill="#808080" dominant-baseline="central" textLength="44.00" lengthAdjust="spacingAndGlyphs">www.Oeabt.com</text>
<text x="523.10" y="412.60" font-family="Liberation Mono" font-size="5.6" fill="#808080" dominant-baseline="central" textLength="33.40" lengthAdjust="spacingAndGlyphs">MATERIAL #</text>
<text x="625.10" y="412.20" font-family="Liberation Mono" font-size="7.4" fill="#808080" dominant-baseline="central" textLength="11.30" lengthAdjust="spacingAndGlyphs">REV</text>
<text x="458.00" y="427.20" font-family="Liberation Mono" font-size="5.6" fill="#808080" dominant-baseline="central" textLength="29.90" lengthAdjust="spacingAndGlyphs">COPYRIGHT</text>
<circle cx="495.70" cy="426.80" r="3.00" fill="none" stroke="#555" stroke-width="1.8"/>
<circle cx="495.70" cy="426.80" r="1.00" fill="none" stroke="#999" stroke-width="0.8"/>
<text x="502.40" y="427.30" font-family="Liberation Serif" font-size="8.2" fill="#111" font-weight="normal" dominant-baseline="central" textLength="48.50" lengthAdjust="spacingAndGlyphs" stroke="#111" stroke-width="0.25">2022 BY Oeabt</text>
<text x="628.80" y="427.00" font-family="Liberation Mono" font-size="7.6" fill="#808080" dominant-baseline="central" textLength="4.80" lengthAdjust="spacingAndGlyphs">A</text>
<text x="454.90" y="438.80" font-family="Liberation Mono" font-size="5.2" fill="#808080" dominant-baseline="central" textLength="106.00" lengthAdjust="spacingAndGlyphs">VALUES IN PARENTHESIS ARE CALCULATED</text>
<text x="463.50" y="444.80" font-family="Liberation Mono" font-size="5.2" fill="#808080" dominant-baseline="central" textLength="92.00" lengthAdjust="spacingAndGlyphs">AND MAY CONTAIN ROUNDOFF ERRORS</text>
<text x="596.90" y="439.60" font-family="Liberation Mono" font-size="4.6" fill="#808080" dominant-baseline="central" textLength="14.50" lengthAdjust="spacingAndGlyphs">APPROX</text>
<text x="597.30" y="445.20" font-family="Liberation Mono" font-size="4.6" fill="#808080" dominant-baseline="central" textLength="13.70" lengthAdjust="spacingAndGlyphs">WEIGHT</text>
<text x="627.60" y="441.40" font-family="Liberation Mono" font-size="7.4" fill="#808080" dominant-baseline="central" textLength="6.40" lengthAdjust="spacingAndGlyphs">kg</text>
<polyline points="507.90,366.00 515.00,374.90 528.80,372.60" fill="none" stroke="#222" stroke-width="0.75" stroke-linejoin="round"/>
<polyline points="505.20,367.10 513.90,377.00 531.60,373.90" fill="none" stroke="#222" stroke-width="0.75" stroke-linejoin="round"/>
<polyline points="502.20,368.20 512.80,379.60 534.60,375.90" fill="none" stroke="#222" stroke-width="0.75" stroke-linejoin="round"/>
<polyline points="499.40,369.20 511.90,383.30 536.40,379.20" fill="none" stroke="#222" stroke-width="0.75" stroke-linejoin="round"/>
<polyline points="499.40,369.20 499.90,366.40 502.60,364.60 504.60,364.40 505.20,367.10 502.20,368.20 499.90,366.40" fill="none" stroke="#222" stroke-width="0.75" stroke-linejoin="round"/>
<polyline points="504.60,364.40 506.60,362.60 510.00,362.20 507.90,366.00 505.20,367.10" fill="none" stroke="#222" stroke-width="0.75" stroke-linejoin="round"/>
<polyline points="528.80,372.60 528.60,368.00 529.90,367.20 533.20,371.40 531.60,373.90" fill="none" stroke="#222" stroke-width="0.75" stroke-linejoin="round"/>
<polyline points="533.20,371.40 534.00,372.20 536.90,376.20 536.40,379.20" fill="none" stroke="#222" stroke-width="0.75" stroke-linejoin="round"/>
<line x1="534.60" y1="375.90" x2="536.90" y2="376.20" stroke="#222" stroke-width="0.75" stroke-linecap="butt"/>
<ellipse cx="548.7" cy="369.9" rx="10.3" ry="10.1" fill="none" stroke="#444" stroke-width="0.9"/>
<ellipse cx="548.7" cy="369.9" rx="8.2" ry="8.0" fill="none" stroke="#444" stroke-width="0.9"/>
<text x="560.2" y="379.4" font-family="Liberation Sans" font-size="25.5" font-weight="bold" fill="#fff" stroke="#333" stroke-width="0.8" textLength="59.0" lengthAdjust="spacingAndGlyphs">eabt</text>
<text x="536.0" y="382.8" font-family="Liberation Sans" font-size="5.2" font-weight="bold" fill="#000" dominant-baseline="central" textLength="84" lengthAdjust="spacingAndGlyphs">Optics Experiment and Basic Teaching</text>
<line x1="574.60" y1="42.70" x2="625.40" y2="83.20" stroke="#1a1a1a" stroke-width="1.5" stroke-linecap="round"/>
<line x1="574.60" y1="42.70" x2="584.10" y2="39.35" stroke="#1a1a1a" stroke-width="1.0" stroke-linecap="round"/>
<line x1="584.10" y1="39.35" x2="634.90" y2="79.85" stroke="#1a1a1a" stroke-width="1.0" stroke-linecap="round"/>
<line x1="625.40" y1="83.20" x2="634.90" y2="79.85" stroke="#555" stroke-width="0.9" stroke-linecap="round"/>
<line x1="574.60" y1="42.70" x2="546.80" y2="109.00" stroke="#1a1a1a" stroke-width="1.0" stroke-linecap="round"/>
<line x1="625.40" y1="83.20" x2="597.60" y2="149.50" stroke="#1a1a1a" stroke-width="1.5" stroke-linecap="round"/>
<line x1="634.90" y1="79.85" x2="602.50" y2="158.85" stroke="#1a1a1a" stroke-width="1.0" stroke-linecap="round"/>
<line x1="546.80" y1="109.00" x2="597.60" y2="149.50" stroke="#1a1a1a" stroke-width="1.0" stroke-linecap="round"/>
<line x1="597.60" y1="149.50" x2="602.50" y2="158.85" stroke="#444" stroke-width="0.8" stroke-linecap="round"/>
<line x1="478.90" y1="129.10" x2="546.80" y2="109.00" stroke="#1a1a1a" stroke-width="1.0" stroke-linecap="round"/>
<line x1="478.90" y1="129.10" x2="529.70" y2="169.60" stroke="#1a1a1a" stroke-width="1.5" stroke-linecap="round"/>
<line x1="529.70" y1="169.60" x2="597.60" y2="149.50" stroke="#1a1a1a" stroke-width="1.5" stroke-linecap="round"/>
<line x1="478.90" y1="129.10" x2="474.30" y2="141.80" stroke="#1a1a1a" stroke-width="1.0" stroke-linecap="round"/>
<line x1="474.30" y1="141.80" x2="525.10" y2="182.30" stroke="#1a1a1a" stroke-width="1.0" stroke-linecap="round"/>
<line x1="529.70" y1="169.60" x2="525.10" y2="182.30" stroke="#666" stroke-width="0.8" stroke-linecap="round"/>
<line x1="525.10" y1="182.30" x2="602.50" y2="158.85" stroke="#1a1a1a" stroke-width="1.0" stroke-linecap="round"/>
<clipPath id="cu" clipPathUnits="userSpaceOnUse"><circle cx="0" cy="0" r="0.97"/></clipPath>
<ellipse cx="0" cy="0" rx="1" ry="1" transform="matrix(7.384 5.876 -3.432 8.507 594.70 75.40)" fill="none" stroke="#1a1a1a" stroke-width="1.2" vector-effect="non-scaling-stroke"/>
<g transform="matrix(7.384 5.876 -3.432 8.507 594.70 75.40)" clip-path="url(#cu)"><circle cx="0.434" cy="-0.504" r="0.82" fill="none" stroke="#2a2a2a" stroke-width="0.7" vector-effect="non-scaling-stroke"/><circle cx="0.551" cy="-0.640" r="0.62" fill="none" stroke="#2a2a2a" stroke-width="0.7" vector-effect="non-scaling-stroke"/><circle cx="0.685" cy="-0.795" r="0.6" fill="none" stroke="#2a2a2a" stroke-width="0.7" vector-effect="non-scaling-stroke"/><circle cx="0.835" cy="-0.970" r="0.58" fill="none" stroke="#2a2a2a" stroke-width="0.7" vector-effect="non-scaling-stroke"/></g>
<ellipse cx="0" cy="0" rx="1" ry="1" transform="matrix(7.384 5.876 -3.432 8.507 568.40 81.60)" fill="none" stroke="#1a1a1a" stroke-width="1.2" vector-effect="non-scaling-stroke"/>
<g transform="matrix(7.384 5.876 -3.432 8.507 568.40 81.60)" clip-path="url(#cu)"><circle cx="0.434" cy="-0.504" r="0.82" fill="none" stroke="#2a2a2a" stroke-width="0.7" vector-effect="non-scaling-stroke"/><circle cx="0.551" cy="-0.640" r="0.62" fill="none" stroke="#2a2a2a" stroke-width="0.7" vector-effect="non-scaling-stroke"/><circle cx="0.685" cy="-0.795" r="0.6" fill="none" stroke="#2a2a2a" stroke-width="0.7" vector-effect="non-scaling-stroke"/><circle cx="0.835" cy="-0.970" r="0.58" fill="none" stroke="#2a2a2a" stroke-width="0.7" vector-effect="non-scaling-stroke"/></g>
<ellipse cx="0" cy="0" rx="1" ry="1" transform="matrix(7.384 5.876 -3.432 8.507 604.50 110.10)" fill="none" stroke="#1a1a1a" stroke-width="1.2" vector-effect="non-scaling-stroke"/>
<g transform="matrix(7.384 5.876 -3.432 8.507 604.50 110.10)" clip-path="url(#cu)"><circle cx="0.434" cy="-0.504" r="0.82" fill="none" stroke="#2a2a2a" stroke-width="0.7" vector-effect="non-scaling-stroke"/><circle cx="0.551" cy="-0.640" r="0.62" fill="none" stroke="#2a2a2a" stroke-width="0.7" vector-effect="non-scaling-stroke"/><circle cx="0.685" cy="-0.795" r="0.6" fill="none" stroke="#2a2a2a" stroke-width="0.7" vector-effect="non-scaling-stroke"/><circle cx="0.835" cy="-0.970" r="0.58" fill="none" stroke="#2a2a2a" stroke-width="0.7" vector-effect="non-scaling-stroke"/></g>
<ellipse cx="0" cy="0" rx="1" ry="1" transform="matrix(7.384 5.876 -3.432 8.507 577.70 116.80)" fill="none" stroke="#1a1a1a" stroke-width="1.2" vector-effect="non-scaling-stroke"/>
<g transform="matrix(7.384 5.876 -3.432 8.507 577.70 116.80)" clip-path="url(#cu)"><circle cx="0.434" cy="-0.504" r="0.82" fill="none" stroke="#2a2a2a" stroke-width="0.7" vector-effect="non-scaling-stroke"/><circle cx="0.551" cy="-0.640" r="0.62" fill="none" stroke="#2a2a2a" stroke-width="0.7" vector-effect="non-scaling-stroke"/><circle cx="0.685" cy="-0.795" r="0.6" fill="none" stroke="#2a2a2a" stroke-width="0.7" vector-effect="non-scaling-stroke"/><circle cx="0.835" cy="-0.970" r="0.58" fill="none" stroke="#2a2a2a" stroke-width="0.7" vector-effect="non-scaling-stroke"/></g>
<ellipse cx="0" cy="0" rx="1" ry="1" transform="matrix(7.029 5.593 7.004 -2.074 512.40 127.70)" fill="#fff" stroke="#1a1a1a" stroke-width="1.1" vector-effect="non-scaling-stroke"/>
<ellipse cx="0" cy="0" rx="1" ry="1" transform="matrix(7.029 5.593 7.004 -2.074 548.40 156.10)" fill="#fff" stroke="#1a1a1a" stroke-width="1.1" vector-effect="non-scaling-stroke"/>
<ellipse cx="0" cy="0" rx="1" ry="1" transform="matrix(4.473 3.559 4.457 -1.320 514.30 146.40)" fill="#4a4a4a" stroke="#1a1a1a" stroke-width="1.1" vector-effect="non-scaling-stroke"/>
<path d="M-0.7,-0.2 L0.7,0.2 M-0.6,0.25 L0.5,0.55 M-0.4,-0.6 L0.6,-0.3" transform="matrix(4.473 3.559 4.457 -1.320 514.30 146.40)" stroke="#8a8a8a" stroke-width="0.5" vector-effect="non-scaling-stroke" fill="none"/>
<ellipse cx="0" cy="0" rx="1" ry="1" transform="matrix(4.473 3.559 4.457 -1.320 530.30 141.70)" fill="#4a4a4a" stroke="#1a1a1a" stroke-width="1.1" vector-effect="non-scaling-stroke"/>
<path d="M-0.7,-0.2 L0.7,0.2 M-0.6,0.25 L0.5,0.55 M-0.4,-0.6 L0.6,-0.3" transform="matrix(4.473 3.559 4.457 -1.320 530.30 141.70)" stroke="#8a8a8a" stroke-width="0.5" vector-effect="non-scaling-stroke" fill="none"/>
<ellipse cx="0" cy="0" rx="1" ry="1" transform="matrix(4.473 3.559 4.457 -1.320 546.40 136.90)" fill="#4a4a4a" stroke="#1a1a1a" stroke-width="1.1" vector-effect="non-scaling-stroke"/>
<path d="M-0.7,-0.2 L0.7,0.2 M-0.6,0.25 L0.5,0.55 M-0.4,-0.6 L0.6,-0.3" transform="matrix(4.473 3.559 4.457 -1.320 546.40 136.90)" stroke="#8a8a8a" stroke-width="0.5" vector-effect="non-scaling-stroke" fill="none"/>
<ellipse cx="0" cy="0" rx="1" ry="1" transform="matrix(4.473 3.559 4.457 -1.320 562.50 132.10)" fill="#4a4a4a" stroke="#1a1a1a" stroke-width="1.1" vector-effect="non-scaling-stroke"/>
<path d="M-0.7,-0.2 L0.7,0.2 M-0.6,0.25 L0.5,0.55 M-0.4,-0.6 L0.6,-0.3" transform="matrix(4.473 3.559 4.457 -1.320 562.50 132.10)" stroke="#8a8a8a" stroke-width="0.5" vector-effect="non-scaling-stroke" fill="none"/>
<line x1="478.90" y1="129.10" x2="546.80" y2="109.00" stroke="#1a1a1a" stroke-width="0.9" stroke-linecap="round"/>
</svg>
</body></html>
